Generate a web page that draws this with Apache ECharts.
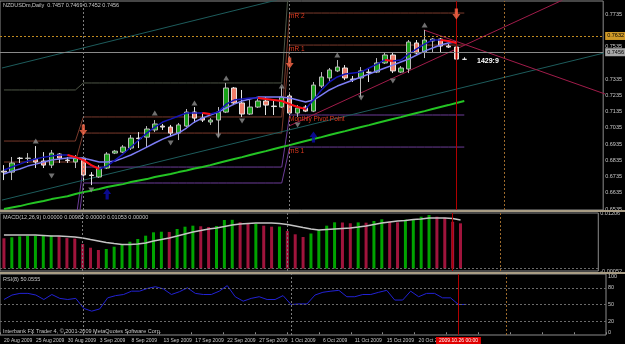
<!DOCTYPE html>
<html>
<head>
<meta charset="utf-8">
<script src="https://cdn.jsdelivr.net/npm/echarts@6/dist/echarts.min.js"></script>
<style>
html, body { margin: 0; padding: 0; background: #000; }
#main { width: 625px; height: 344px; }
</style>
</head>
<body>
<div id="main"></div>
<script>
// daily bars, NZDUSD
const dates = ['20 Aug 2009','21 Aug 2009','23 Aug 2009','24 Aug 2009','25 Aug 2009','26 Aug 2009','27 Aug 2009','28 Aug 2009','30 Aug 2009','31 Aug 2009',
  '1 Sep 2009','2 Sep 2009','3 Sep 2009','4 Sep 2009','6 Sep 2009','7 Sep 2009','8 Sep 2009','9 Sep 2009','10 Sep 2009','11 Sep 2009',
  '13 Sep 2009','14 Sep 2009','15 Sep 2009','16 Sep 2009','17 Sep 2009','18 Sep 2009','20 Sep 2009','21 Sep 2009','22 Sep 2009','23 Sep 2009',
  '24 Sep 2009','25 Sep 2009','27 Sep 2009','28 Sep 2009','29 Sep 2009','30 Sep 2009',
  '1 Oct 2009','2 Oct 2009','4 Oct 2009','5 Oct 2009','6 Oct 2009','7 Oct 2009','8 Oct 2009','9 Oct 2009','11 Oct 2009','12 Oct 2009',
  '13 Oct 2009','14 Oct 2009','15 Oct 2009','16 Oct 2009','18 Oct 2009','19 Oct 2009','20 Oct 2009','21 Oct 2009','22 Oct 2009','23 Oct 2009',
  '25 Oct 2009','26 Oct 2009','27 Oct 2009'];

const openP = [0.6769,0.6763,0.6849,0.6847,0.6843,0.6831,0.6806,0.6874,0.6837,0.6825,
  0.6849,0.6745,0.6733,0.6788,0.6880,0.6886,0.6911,0.6972,0.6978,0.7022,
  0.7046,0.7040,0.7003,0.7046,0.7132,0.7095,0.7071,0.7083,0.7132,0.7280,
  0.7188,0.7120,0.7163,0.7200,0.7169,0.7163,0.7231,0.7126,0.7163,0.7138,
  0.7292,0.7342,0.7385,0.7403,0.7335,0.7342,0.7378,0.7378,0.7434,0.7483,
  0.7378,0.7397,0.7557,0.7501,0.7569,0.7581,0.7538,0.7532,0.7457];
const highP = [0.6806,0.6856,0.6856,0.6880,0.6923,0.6886,0.6899,0.6880,0.6856,0.6868,
  0.6856,0.6763,0.6806,0.6886,0.6899,0.6929,0.6991,0.7009,0.7046,0.7083,
  0.7059,0.7053,0.7065,0.7151,0.7163,0.7126,0.7095,0.7163,0.7311,0.7286,
  0.7268,0.7206,0.7218,0.7225,0.7206,0.7286,0.7249,0.7175,0.7175,0.7317,
  0.7378,0.7403,0.7452,0.7421,0.7354,0.7409,0.7403,0.7464,0.7501,0.7495,
  0.7415,0.7575,0.7575,0.7637,0.7587,0.7587,0.7550,0.7544,0.7469];
const lowP = [0.6714,0.6714,0.6819,0.6819,0.6788,0.6788,0.6788,0.6819,0.6819,0.6788,
  0.6702,0.6683,0.6727,0.6782,0.6874,0.6880,0.6899,0.6911,0.6917,0.7009,
  0.7022,0.6979,0.6960,0.7040,0.7065,0.7071,0.7053,0.6979,0.7126,0.7175,
  0.7102,0.7114,0.7157,0.7114,0.7114,0.7157,0.7114,0.7102,0.7132,0.7132,
  0.7280,0.7317,0.7378,0.7329,0.7317,0.7225,0.7317,0.7372,0.7428,0.7372,
  0.7372,0.7372,0.7489,0.7464,0.7501,0.7495,0.7526,0.7452,0.7452];
const closeP = [0.6763,0.6819,0.6847,0.6849,0.6825,0.6806,0.6880,0.6849,0.6834,0.6849,
  0.6745,0.6742,0.6788,0.6874,0.6892,0.6917,0.6972,0.6969,0.7028,0.7059,
  0.7040,0.7003,0.7053,0.7132,0.7095,0.7083,0.7083,0.7132,0.7280,0.7188,
  0.7120,0.7163,0.7200,0.7175,0.7166,0.7225,0.7126,0.7157,0.7138,0.7298,
  0.7348,0.7391,0.7409,0.7342,0.7332,0.7385,0.7375,0.7434,0.7483,0.7385,
  0.7403,0.7563,0.7495,0.7575,0.7581,0.7538,0.7532,0.7458,0.7456];

// moving averages
const maFast = [0.6776,0.6794,0.6812,0.6831,0.6843,0.6855,0.6862,0.6868,0.6868,0.6855,
  0.6837,0.6806,0.6782,0.6800,0.6837,0.6874,0.6917,0.6960,0.7003,0.7040,
  0.7071,0.7089,0.7108,0.7126,0.7126,0.7126,0.7120,0.7132,0.7181,0.7206,
  0.7212,0.7218,0.7218,0.7212,0.7206,0.7200,0.7181,0.7163,0.7151,0.7206,
  0.7268,0.7317,0.7348,0.7366,0.7372,0.7378,0.7403,0.7427,0.7452,0.7446,
  0.7452,0.7489,0.7520,0.7550,0.7575,0.7575,0.7569,0.7557,null];
const maSlow = [0.6751,0.6769,0.6782,0.6800,0.6812,0.6825,0.6837,0.6843,0.6849,0.6849,
  0.6849,0.6837,0.6825,0.6825,0.6831,0.6849,0.6868,0.6892,0.6917,0.6942,
  0.6966,0.6985,0.7003,0.7034,0.7071,0.7095,0.7114,0.7132,0.7157,0.7181,
  0.7200,0.7212,0.7224,0.7224,0.7224,0.7224,0.7218,0.7206,0.7194,0.7206,
  0.7237,0.7268,0.7292,0.7311,0.7329,0.7348,0.7366,0.7385,0.7403,0.7421,
  0.7440,0.7458,0.7483,0.7507,0.7526,0.7544,0.7557,0.7563,null];
const maLong = [0.6536,0.6545,0.6554,0.6566,0.6576,0.6585,0.6597,0.6606,0.6615,0.6628,
  0.6640,0.6649,0.6659,0.6671,0.6680,0.6689,0.6702,0.6711,0.6720,0.6733,
  0.6742,0.6751,0.6763,0.6773,0.6785,0.6794,0.6806,0.6819,0.6831,0.6843,
  0.6855,0.6868,0.6880,0.6892,0.6905,0.6917,0.6929,0.6942,0.6954,0.6966,
  0.6978,0.6991,0.7003,0.7015,0.7028,0.7040,0.7052,0.7065,0.7077,0.7089,
  0.7101,0.7114,0.7126,0.7138,0.7151,0.7163,0.7175,0.7188,0.7200];

// monthly pivots: R3, R2, R1, P, S1
const pivotColors = ['#4e5646', '#7a3a2c', '#7a3a2c', '#6c3c98', '#6c3c98'];
const augLevels = [0.7268, 0.6954, 0.6825, 0.6450, 0.6300];
const sepLevels = [0.7311, 0.7102, 0.7003, 0.6794, 0.6696];
const octLevels = [0.8000, 0.7741, 0.7544, 0.7114, 0.6917];
const sepStart = 10, octStart = 36;

// fractals and signal arrows [bar, price]
const fractalUp = [[4,0.6954],[19,0.7126],[24,0.7188],[28,0.7341],[35,0.7292],[42,0.7483],[53,0.7667]];
const fractalDown = [[6,0.6739],[11,0.6653],[21,0.6942],[27,0.6985],[30,0.7077],[37,0.7052],[45,0.7218],[49,0.7323]];
const sellArrows = [[10,0.7022],[36,0.7434],[57,0.7735]];
const buyArrows = [[13,0.6628],[39,0.6979]];

// trend lines [bar, price] pairs
const tealLines = [[[-0.25,0.7403],[34.4,0.7821]], [[-0.25,0.6591],[75.6,0.7495]]];
const crimsonLines = [[[35.9,0.7046],[70.4,0.7821]], [[52.9,0.7637],[77.9,0.7206]]];

const bidPrice = 0.7456;
const alertPrice = 0.7632;

// MACD(12,26,9)
const macdHist = [0.00657,0.00679,0.00700,0.00708,0.00712,0.00715,0.00718,0.00705,0.00662,0.00652,
  0.00534,0.00453,0.00403,0.00425,0.00475,0.00527,0.00583,0.00642,0.00714,0.00787,
  0.00800,0.00795,0.00859,0.00909,0.00931,0.00918,0.00902,0.00924,0.01054,0.01058,
  0.01004,0.00967,0.00972,0.00931,0.00909,0.00912,0.00816,0.00744,0.00685,0.00761,
  0.00837,0.00931,0.01004,0.01000,0.00983,0.01002,0.00996,0.01032,0.01069,0.01017,
  0.01004,0.01061,0.01076,0.01126,0.01163,0.01126,0.01104,0.01017,0.00982];
const macdSignal = [0.00729,0.00729,0.00729,0.00729,0.00729,0.00718,0.00707,0.00707,0.00696,0.00685,
  0.00664,0.00631,0.00599,0.00566,0.00544,0.00523,0.00523,0.00534,0.00555,0.00599,
  0.00631,0.00664,0.00707,0.00751,0.00794,0.00826,0.00859,0.00881,0.00913,0.00946,
  0.00967,0.00978,0.00989,0.00989,0.00989,0.00978,0.00957,0.00924,0.00891,0.00859,
  0.00837,0.00848,0.00859,0.00870,0.00881,0.00902,0.00924,0.00957,0.00989,0.01011,
  0.01032,0.01043,0.01065,0.01076,0.01098,0.01098,0.01098,0.01087,0.01053];

// RSI(8)
const rsi8 = [59,67,70,70,67,59,68,61,59,61,
  43,38,42,62,66,68,74,74,79,82,
  78,68,73,80,70,68,68,74,84,64,
  56,61,64,59,59,66,50,51,51,67,
  72,74,75.5,64,64,68,68,72,75.5,58,
  58,74,64,70,70,62,62,50,50.06];

// axis ticks
const priceTicks = [0.6535,0.6635,0.6735,0.6835,0.6935,0.7035,0.7135,0.7235,0.7335,0.7535,0.7735];
const macdTicks = [-0.00052, 0.01206];
const rsiTicks = [0, 20, 50, 80, 100];
const separators = [sepStart, octStart];
const nextMonthBar = 63;
const currentBar = 57;

const FONT = 'Liberation Sans';
const TXT = '#c8c8c8';
const cats = dates.concat(new Array(17).fill(''));
const N = cats.length;

const candleData = openP.map((o, i) => [o, closeP[i], lowP[i], highP[i]]);

function monthly(k) {
  return dates.map((d, i) => i < sepStart ? augLevels[k] : (i < octStart ? sepLevels[k] : octLevels[k]));
}

// red part of the fast MA where it is falling
const maFastDown = maFast.map((v, i) => {
  if (v == null) return null;
  const prev = maFast[i - 1], next = maFast[i + 1];
  if ((prev != null && v < prev) || (next != null && next < v)) return v;
  return null;
});

const macdBars = macdHist.map((v, i) => ({
  value: v,
  itemStyle: { color: i > 0 && v >= macdHist[i - 1] ? '#00a400' : '#a0143c' }
}));

const noLabel = { show: false };

function vLines(withLabel) {
  const arr = separators.map(b => ({ xAxis: b, label: noLabel, lineStyle: { color: '#7c7c7c', type: [2, 2], width: 1 } }));
  arr.push({ xAxis: nextMonthBar, label: noLabel, lineStyle: { color: '#9c6a2c', type: [2, 2], width: 1 } });
  arr.push({
    xAxis: currentBar, lineStyle: { color: '#b00000', type: 'solid', width: 1 },
    label: withLabel ? { show: true, position: 'start', formatter: '2009.10.26 00:00', backgroundColor: '#e00000',
      color: '#ffffff', fontSize: 5, fontFamily: FONT, padding: [1, 3], distance: 2 } : noLabel
  });
  return arr;
}

const series = [];

// pivot lines
for (let k = 0; k < 5; k++) {
  series.push({
    type: 'line', xAxisIndex: 0, yAxisIndex: 0, data: monthly(k), symbol: 'none', z: 1,
    lineStyle: { color: pivotColors[k], width: 1 }, silent: true
  });
}
// trend lines
tealLines.forEach(l => series.push({
  type: 'line', xAxisIndex: 3, yAxisIndex: 0, data: l, symbol: 'none', z: 1,
  lineStyle: { color: '#1d5c5c', width: 1 }
}));
crimsonLines.forEach(l => series.push({
  type: 'line', xAxisIndex: 3, yAxisIndex: 0, data: l, symbol: 'none', z: 1,
  lineStyle: { color: '#a01c4a', width: 1 }
}));

series.push({
  type: 'candlestick', xAxisIndex: 0, yAxisIndex: 0, data: candleData, barWidth: 5, z: 3,
  itemStyle: { color: '#18a018', color0: '#f07e6c', borderColor: '#b8b8b8', borderColor0: '#e4e4e4', borderWidth: 1 },
  markLine: {
    symbol: ['none', 'none'], silent: true, animation: false, label: noLabel,
    data: [
      { yAxis: alertPrice, lineStyle: { color: '#c08a20', type: [2, 2], width: 1 },
        label: { show: true, position: 'end', formatter: alertPrice.toFixed(4), backgroundColor: '#d09a28', color: '#000',
          fontSize: 5.5, fontFamily: FONT, padding: [1, 2], distance: 2 } },
      { yAxis: bidPrice, lineStyle: { color: '#8a8a8a', type: 'solid', width: 1 },
        label: { show: true, position: 'end', formatter: bidPrice.toFixed(4), backgroundColor: '#a8a8a8', color: '#000',
          fontSize: 5.5, fontFamily: FONT, padding: [1, 2], distance: 2 } }
    ].concat(vLines(false))
  }
});

series.push({ type: 'line', xAxisIndex: 0, yAxisIndex: 0, data: maLong, symbol: 'none', z: 4,
  lineStyle: { color: '#24c424', width: 2 } });
series.push({ type: 'line', xAxisIndex: 0, yAxisIndex: 0, data: maSlow, symbol: 'none', z: 4,
  lineStyle: { color: '#7c7cf4', width: 1.5 } });
series.push({ type: 'line', xAxisIndex: 0, yAxisIndex: 0, data: maFast, symbol: 'none', z: 4,
  lineStyle: { color: '#1414b4', width: 1.5 } });
series.push({ type: 'line', xAxisIndex: 0, yAxisIndex: 0, data: maFastDown, symbol: 'none', z: 5, connectNulls: false,
  lineStyle: { color: '#ff1010', width: 2 } });

// fractals
series.push({ type: 'scatter', xAxisIndex: 3, yAxisIndex: 0, data: fractalUp, symbol: 'triangle', symbolSize: [6, 5], z: 5,
  itemStyle: { color: '#8c8c8c' } });
series.push({ type: 'scatter', xAxisIndex: 3, yAxisIndex: 0, data: fractalDown, symbol: 'triangle', symbolRotate: 180, symbolSize: [6, 5], z: 5,
  itemStyle: { color: '#8c8c8c' } });
// signal arrows
series.push({ type: 'scatter', xAxisIndex: 3, yAxisIndex: 0, data: sellArrows, z: 6,
  symbol: 'path://M3,0 L7,0 L7,6 L10,6 L5,12 L0,6 L3,6 Z', symbolSize: [8, 11],
  itemStyle: { color: '#ff6a4a' } });
series.push({ type: 'scatter', xAxisIndex: 3, yAxisIndex: 0, data: buyArrows, z: 6,
  symbol: 'path://M5,0 L10,6 L7,6 L7,12 L3,12 L3,6 L0,6 Z', symbolSize: [8, 11],
  itemStyle: { color: '#0c0cb0' } });

// MACD pane
series.push({
  type: 'bar', xAxisIndex: 1, yAxisIndex: 1, data: macdBars, barWidth: 3, z: 2,
  markLine: { symbol: ['none', 'none'], silent: true, animation: false, label: noLabel,
    data: [{ yAxis: 0, lineStyle: { color: '#6a6a6a', type: [2, 2], width: 1 }, label: noLabel }]
      .concat(vLines(false)) }
});
series.push({ type: 'line', xAxisIndex: 1, yAxisIndex: 1, data: macdSignal, symbol: 'none', z: 3,
  lineStyle: { color: '#c4c4c4', width: 1.5 } });

// RSI pane
series.push({
  type: 'line', xAxisIndex: 2, yAxisIndex: 2, data: rsi8, symbol: 'none', z: 3,
  lineStyle: { color: '#2222d4', width: 1 },
  markLine: { symbol: ['none', 'none'], silent: true, animation: false, label: noLabel,
    data: [20, 50, 80].map(v => ({ yAxis: v, lineStyle: { color: '#6a6a6a', type: [2, 2], width: 1 }, label: noLabel }))
      .concat(vLines(true)) }
});

const hiddenCat = { type: 'category', data: cats, boundaryGap: true,
  axisLine: { show: false }, axisTick: { show: false }, axisLabel: { show: false }, splitLine: { show: false } };
const labelStyle = { fontSize: 5.5, color: TXT, fontFamily: FONT, margin: 2 };

function txt(x, y, text, extra) {
  return { type: 'text', left: x, top: y, z: 100,
    style: Object.assign({ text: text, fill: TXT, fontSize: 5.5, fontFamily: FONT }, extra || {}) };
}

const chart = echarts.init(document.getElementById('main'), null, { renderer: 'canvas' });
chart.setOption({
  backgroundColor: '#000000',
  animation: false,
  grid: [
    { left: -2, top: 1, width: 608, height: 209, show: true, borderColor: '#8c8c8c', borderWidth: 1 },
    { left: -2, top: 213, width: 608, height: 58, show: true, borderColor: '#8c8c8c', borderWidth: 1 },
    { left: -2, top: 274, width: 608, height: 61, show: true, borderColor: '#8c8c8c', borderWidth: 1 }
  ],
  xAxis: [
    Object.assign({ gridIndex: 0 }, hiddenCat),
    Object.assign({ gridIndex: 1 }, hiddenCat),
    { type: 'category', gridIndex: 2, data: cats, boundaryGap: true,
      axisLine: { show: false }, splitLine: { show: false },
      axisTick: { show: true, interval: 3, length: 2, lineStyle: { color: '#8c8c8c' } },
      axisLabel: { interval: 3, fontSize: 5, color: TXT, fontFamily: FONT, align: 'left', margin: 3 } },
    { type: 'value', gridIndex: 0, min: -0.5, max: N - 0.5, show: false }
  ],
  yAxis: [
    { type: 'value', gridIndex: 0, position: 'right', min: 0.6530, max: 0.7815, scale: true,
      splitLine: { show: false }, axisLine: { show: false }, axisTick: { show: false },
      axisLabel: Object.assign({ customValues: priceTicks, formatter: v => Number(v).toFixed(4) }, labelStyle) },
    { type: 'value', gridIndex: 1, position: 'right', min: -0.00052, max: 0.01206,
      splitLine: { show: false }, axisLine: { show: false }, axisTick: { show: false },
      axisLabel: Object.assign({ customValues: macdTicks, formatter: v => Number(v).toFixed(5) }, labelStyle) },
    { type: 'value', gridIndex: 2, position: 'right', min: -4.9, max: 104.9,
      splitLine: { show: false }, axisLine: { show: false }, axisTick: { show: false },
      axisLabel: Object.assign({ customValues: rsiTicks, formatter: v => String(v) }, labelStyle) }
  ],
  series: series,
  graphic: [
    { type: 'rect', left: 0, top: 210, z: 90, shape: { width: 625, height: 2 }, style: { fill: '#a89c84' } },
    { type: 'rect', left: 0, top: 272, z: 90, shape: { width: 625, height: 2 }, style: { fill: '#a89c84' } },
    txt(3, 2, 'NZDUSDm,Daily  0.7457 0.7469 0.7452 0.7456'),
    txt(3, 214, 'MACD(12,26,9) 0.00000 0.00982 0.00000 0.01053 0.00000'),
    txt(3, 276, 'RSI(8) 50.0555'),
    txt(3, 328, 'Interbank FX Trader 4, \u00a9 2001-2009 MetaQuotes Software Corp.'),
    txt(477, 58, '1429:9', { fill: '#ffffff', fontSize: 7, fontWeight: 'bold' }),
    txt(289, 13, 'mR 2', { fill: '#e03a20', fontSize: 6.5 }),
    txt(289, 46, 'mR 1', { fill: '#e03a20', fontSize: 6.5 }),
    txt(289, 116, 'Monthly Pivot Point', { fill: '#e03a20', fontSize: 6.5 }),
    txt(289, 148, 'mS 1', { fill: '#e03a20', fontSize: 6.5 })
  ]
});
</script>
</body>
</html>
